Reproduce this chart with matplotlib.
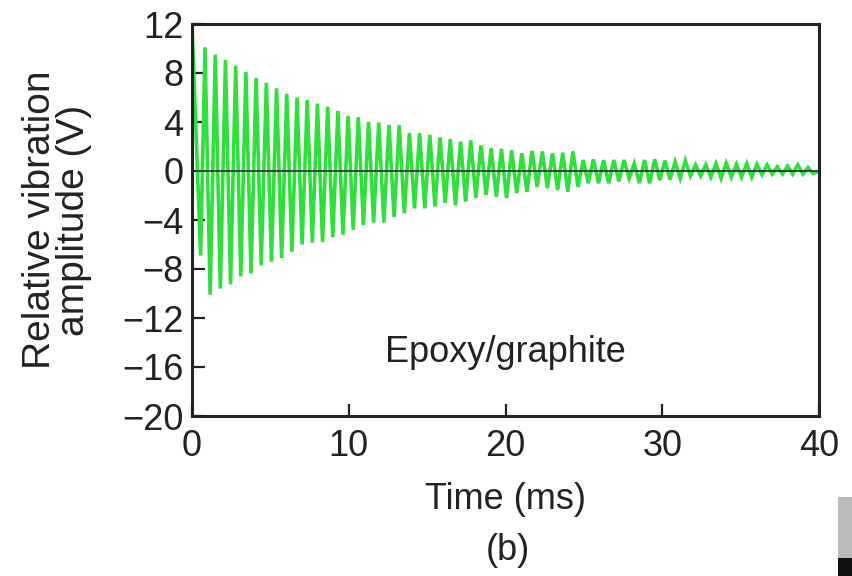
import numpy as np
import matplotlib
matplotlib.use("Agg")
import matplotlib.pyplot as plt
from matplotlib.patches import Rectangle

# ---- data ----
start_point = (0.0, 12.0)          # (ms, V)
first_trough = (0.55, -6.9)
first_peak_t = 0.83                # ms
period_ms = 0.652                  # oscillation period
peaks = [10.1, 9.5, 9.06, 8.6, 8.1, 7.6, 7.2, 6.75, 6.3,
         6.0, 5.8, 5.5, 5.25, 4.9, 4.5, 4.4, 4.0, 3.95, 3.75,
         3.75, 3.1, 3.1, 2.95, 2.75, 2.6, 2.4, 2.5, 2.1, 1.85, 1.8,
         1.7, 1.45, 1.65, 1.6, 1.45, 1.5, 1.6, 0.9, 0.95, 0.88,
         0.9, 0.9, 0.6, 0.9, 0.95, 0.85, 0.75, 0.85, 0.5, 0.5,
         0.6, 0.65, 0.55, 0.6, 0.55, 0.5, 0.35, 0.4, 0.5, 0.3]
troughs = [-10.1, -9.6, -9.25, -8.6, -8.35, -7.7, -7.4, -7.1, -6.6,
           -6.0, -5.85, -5.8, -5.4, -5.2, -4.8, -4.4, -4.2, -4.2, -3.75,
           -3.45, -3.05, -3.05, -2.9, -2.6, -2.8, -2.5, -2.2, -1.95, -2.1,
           -2.2, -1.8, -1.7, -1.3, -1.4, -1.55, -1.7, -1.3, -1.0, -1.0,
           -1.0, -0.85, -0.6, -1.0, -1.0, -0.75, -0.7, -0.6, -0.4, -0.4,
           -0.5, -0.6, -0.5, -0.5, -0.5, -0.3, -0.25, -0.25, -0.25, -0.25, -0.2]
end_point = (40.0, 0.0)

x_ticks = [0, 10, 20, 30, 40]
y_ticks = [12, 8, 4, 0, -4, -8, -12, -16, -20]
x_label = "Time (ms)"
y_label = "Relative vibration\namplitude (V)"
annotation = "Epoxy/graphite"
caption = "(b)"

# ---- build the trace ----
t = [start_point[0], first_trough[0]]
v = [start_point[1], first_trough[1]]
n = min(len(peaks), len(troughs))
for k in range(n):
    tp = first_peak_t + k * period_ms
    t += [tp, tp + period_ms / 2]
    v += [peaks[k], troughs[k]]
t.append(end_point[0])
v.append(end_point[1])

plt.rcParams['font.family'] = ['Liberation Sans', 'DejaVu Sans']

fig = plt.figure(figsize=(8.52, 5.76), dpi=100)
ax = fig.add_axes([192/852, 1-416/576, (819-192)/852, (416-24)/576])

ax.plot(t, v, color='#2fe03c', lw=2.6, solid_joinstyle='miter', zorder=2)
ax.axhline(0, color='#2a2a2a', lw=1.2, zorder=3)

ax.set_xlim(0, 40)
ax.set_ylim(-20, 12)
ax.set_xticks(x_ticks)
ax.set_yticks(y_ticks)
ax.set_yticklabels([str(y).replace('-', '\u2212') for y in y_ticks])
ax.tick_params(direction='in', length=9, width=1.6, labelsize=26,
               colors='#222222', labelcolor='#222222')
ax.tick_params(axis='x', pad=9)
ax.tick_params(axis='y', pad=6)
for s in ax.spines.values():
    s.set_linewidth(2.2)
    s.set_color('#222222')

ax.set_xlabel(x_label, fontsize=26, color='#222222', labelpad=13)
ax.set_ylabel(y_label, fontsize=28, color='#222222', labelpad=22,
              linespacing=0.92)
ax.text(20.0, -14.8, annotation, fontsize=26, color='#222222',
        ha='center', va='center')
fig.text(508/852, 1-550/576, caption, fontsize=26, color='#222222',
         ha='center', va='center')

# small cropped logo fragment at bottom-right edge
fig.patches.append(Rectangle((838/852, 0), 14/852, 79/576,
                             transform=fig.transFigure, facecolor='#bbbbbb',
                             edgecolor='none'))
fig.patches.append(Rectangle((838/852, 0), 14/852, 18/576,
                             transform=fig.transFigure, facecolor='#111111',
                             edgecolor='none'))

fig.savefig('out.png', dpi=100)
